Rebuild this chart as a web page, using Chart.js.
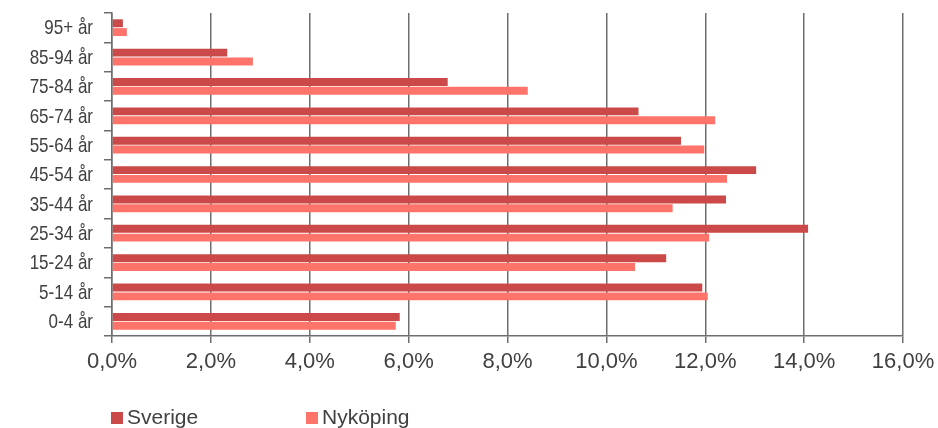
<!DOCTYPE html>
<html>
<head>
<meta charset="utf-8">
<script src="https://cdn.jsdelivr.net/npm/chart.js@4"></script>
<style>
  html, body { margin: 0; padding: 0; background: #fff; }
  #wrap { position: relative; width: 938px; height: 428px; }
  #legend { position: absolute; top: 405px; left: 111px; font-family: "Liberation Sans", Arial, sans-serif; font-size: 21px; line-height: 24px; color: #404040; }
  #legend span.item { position: absolute; white-space: nowrap; }
  #legend i { display: inline-block; width: 12px; height: 12px; margin-right: 4px; vertical-align: 0px; }
</style>
</head>
<body>
<div id="wrap">
  <canvas id="chart" width="938" height="428"></canvas>
  <div id="legend"></div>
</div>
<script>
// Åldersgrupper, uppifrån och ner som i bilden
const categories = ['95+ år', '85-94 år', '75-84 år', '65-74 år', '55-64 år', '45-54 år', '35-44 år', '25-34 år', '15-24 år', '5-14 år', '0-4 år'];
const sverige   = [0.22, 2.33, 6.79, 10.65, 11.51, 13.03, 12.42, 14.08, 11.21, 11.94, 5.82];
const nykoping  = [0.30, 2.85, 8.41, 12.20, 11.98, 12.44, 11.34, 12.08, 10.58, 12.05, 5.74];
const seriesNames = ['Sverige', 'Nyköping'];
const seriesColors = ['#CB4949', '#FF746A'];
const xMax = 16;
const xStep = 2;

const textColor = '#404040';
const gridColor = '#6e6e6e';

// y-etiketterna är smala i originalet -> ritas ihoptryckta
const narrowLabels = {
    id: 'narrowLabels',
    afterDraw(chart) {
        const y = chart.scales.y;
        const c = chart.ctx;
        c.save();
        c.font = '21px "Liberation Sans", Arial, sans-serif';
        c.fillStyle = textColor;
        c.textAlign = 'right';
        c.textBaseline = 'middle';
        y.ticks.forEach((t, i) => {
            c.save();
            c.translate(93, y.getPixelForTick(i) + 1);
            c.scale(0.81, 1);
            c.fillText(y.getLabelForValue(t.value), 0, 0);
            c.restore();
        });
        c.restore();
    }
};

const ctx = document.getElementById('chart').getContext('2d');
new Chart(ctx, {
    type: 'bar',
    data: {
        labels: categories,
        datasets: [
            { label: seriesNames[0], data: sverige, backgroundColor: seriesColors[0], barPercentage: 0.9, categoryPercentage: 0.6 },
            { label: seriesNames[1], data: nykoping, backgroundColor: seriesColors[1], barPercentage: 0.9, categoryPercentage: 0.6 }
        ]
    },
    options: {
        indexAxis: 'y',
        responsive: false,
        animation: false,
        layout: { padding: { top: 13, right: 35, left: 0, bottom: 0 } },
        plugins: { legend: { display: false }, tooltip: { enabled: false } },
        scales: {
            x: {
                min: 0,
                max: xMax,
                ticks: {
                    stepSize: xStep,
                    color: textColor,
                    font: { family: '"Liberation Sans", Arial, sans-serif', size: 22 },
                    padding: 6,
                    maxRotation: 0,
                    callback: v => v.toFixed(1).replace('.', ',') + '%'
                },
                grid: { color: gridColor, lineWidth: 1.5, tickLength: 7, drawTicks: true },
                border: { color: gridColor, width: 1.5 },
                afterFit: s => { s.height = 92; s.paddingLeft = 0; s.paddingRight = 0; }
            },
            y: {
                ticks: { color: 'rgba(0,0,0,0)', font: { size: 21 }, padding: 11 },
                grid: { display: true, drawOnChartArea: false, offset: true, tickLength: 8, color: gridColor, lineWidth: 1.5 },
                border: { color: gridColor, width: 1.5 },
                afterFit: s => { s.width = 112; s.paddingTop = 0; s.paddingBottom = 0; }
            }
        }
    },
    plugins: [narrowLabels]
});

// Legend som i originalet
const legend = document.getElementById('legend');
legend.innerHTML = seriesNames.map((n, i) =>
    `<span class="item" style="left:${i * 195}px"><i style="background:${seriesColors[i]}"></i>${n}</span>`
).join('');
</script>
</body>
</html>
